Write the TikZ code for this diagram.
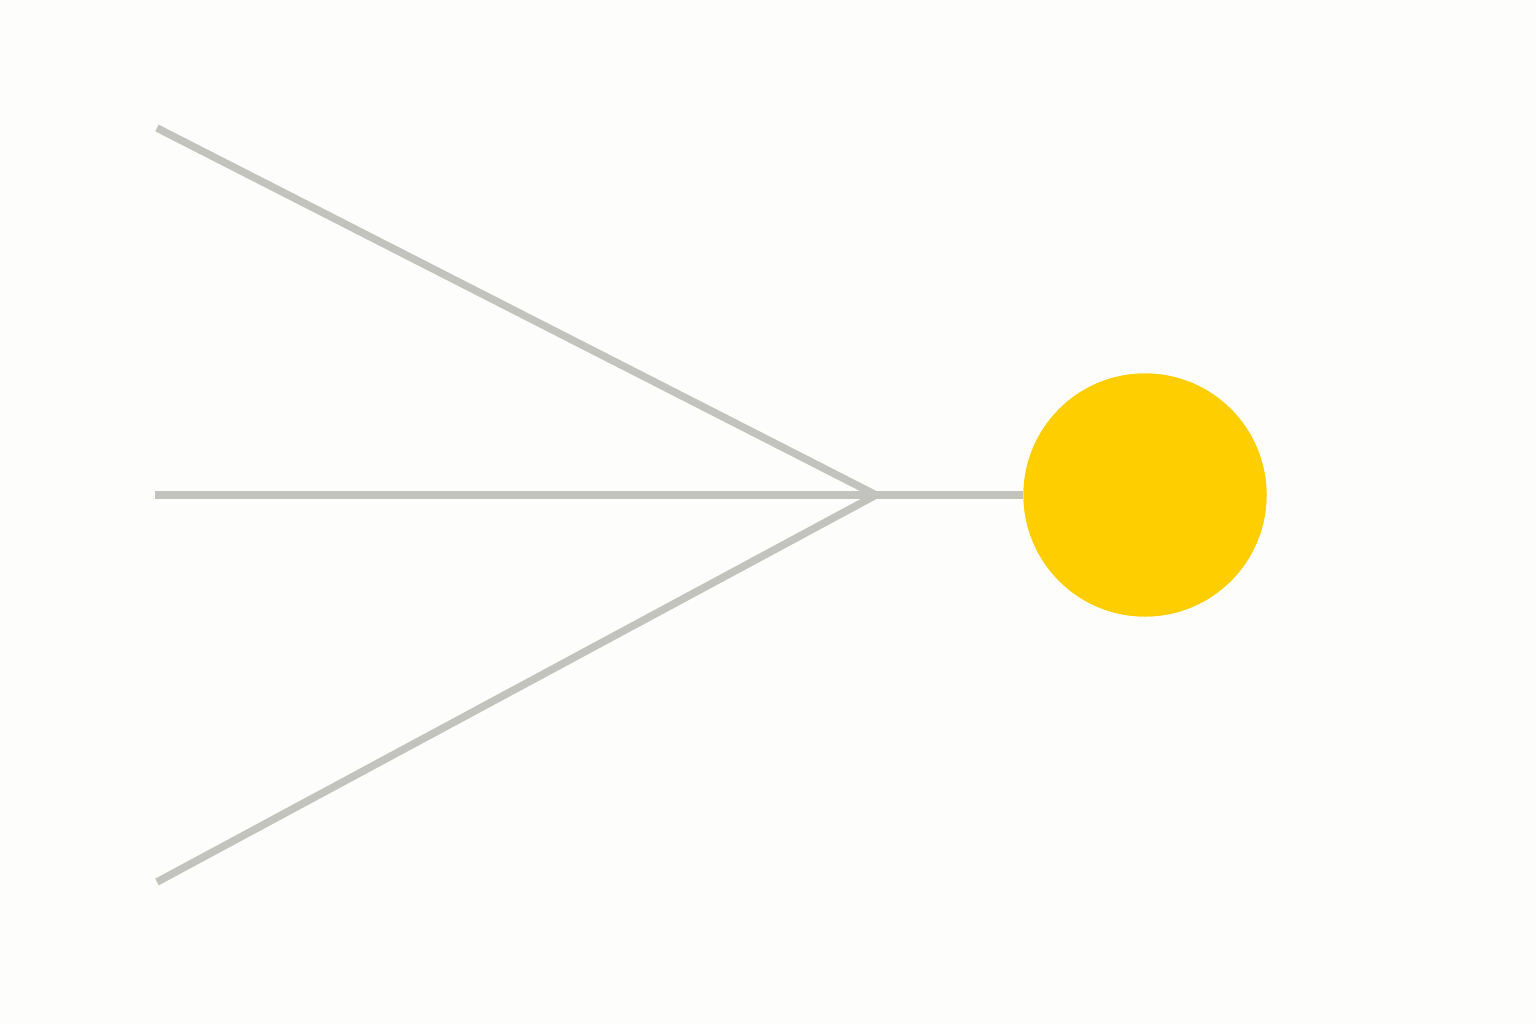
\documentclass[tikz,border=0pt]{standalone}
\begin{document}
\begin{tikzpicture}[x=1pt,y=-1pt,
  wire/.style={line width=7.5pt, draw=linegray},
  dot/.style={circle, fill=sunyellow, minimum size=243pt, inner sep=0pt, draw=none}]
\definecolor{bg}{HTML}{FDFDFB}
\definecolor{linegray}{HTML}{C2C3BC}
\definecolor{sunyellow}{HTML}{FFCE00}
\fill[bg] (0,0) rectangle (1536,1024);
\useasboundingbox (0,0) rectangle (1536,1024);
\coordinate (a) at (157,128);
\coordinate (b) at (155,495);
\coordinate (c) at (157,882);
\coordinate (j) at (876,495);
\node[dot] (s) at (1145,495) {};
\draw[wire] (a) -- (j);
\draw[wire] (c) -- (j);
\draw[wire] (b) -- (s.west);
\node[dot] at (1145,495) {};
\end{tikzpicture}
\end{document}
